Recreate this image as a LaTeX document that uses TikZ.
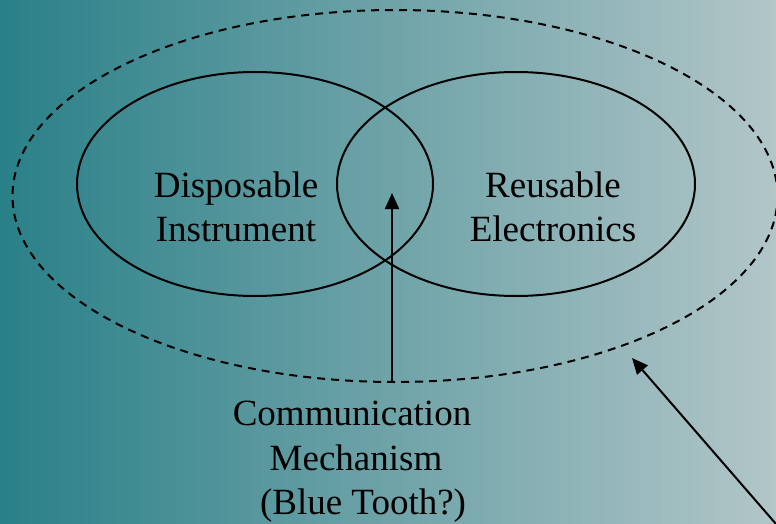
\documentclass[tikz,border=0pt]{standalone}
\usepackage{fontspec}
\setmainfont{Liberation Serif}
\usetikzlibrary{shapes.geometric,arrows.meta}
\definecolor{bgleft}{RGB}{42,128,136}
\definecolor{bgright}{RGB}{178,198,200}
\tikzset{
  ring/.style={draw=black, line width=2pt, ellipse, inner sep=0pt},
  outerring/.style={draw=black, line width=2pt, dash pattern=on 8pt off 6pt, ellipse, inner sep=0pt},
  label/.style={align=center, font=\fontsize{37}{44.5}\selectfont, inner sep=0pt},
  pointer/.style={line width=2pt, -{Triangle[length=16pt,width=14pt]}}
}
\begin{document}
\begin{tikzpicture}[x=1pt,y=-1pt]
\useasboundingbox (0,0) rectangle (776,524);
\shade[left color=bgleft, right color=bgright] (0,0) rectangle (776,524);
\node[outerring, minimum width=765pt, minimum height=372pt] (outer) at (395,196) {};
\node[ring, minimum width=356pt, minimum height=224pt] (left) at (255,184) {};
\node[ring, minimum width=358pt, minimum height=224pt] (right) at (516,184) {};
\node[label] (disp) at (236,207) {Disposable\\Instrument};
\node[label] (reus) at (553,207) {Reusable\\Electronics};
\node[label] (comm) at (352,462) {Communication\\\hspace*{8pt}Mechanism\\\hspace*{22pt}(Blue Tooth?)};
\coordinate (tail1) at (392,383);
\coordinate (tip1) at (392,193);
\coordinate (tail2) at (776,524);
\coordinate (tip2) at (632,358);
\draw[pointer] (tail1) -- (tip1);
\draw[pointer] (tail2) -- (tip2);
\end{tikzpicture}
\end{document}
